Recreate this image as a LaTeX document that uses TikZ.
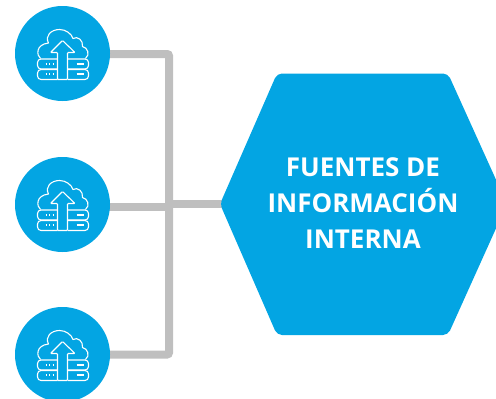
\documentclass[tikz,border=0pt]{standalone}
\usepackage{fontspec}
\setmainfont{Open Sans}
\definecolor{blu}{HTML}{03A5E3}
\definecolor{gry}{HTML}{BFBFBF}
\tikzset{
  x=1pt,y=-1pt,
  disc/.style={circle,fill=blu,minimum size=95pt,inner sep=0pt},
  conn/.style={draw=gry,line width=8pt,rounded corners=2pt},
  hexa/.style={fill=blu,rounded corners=5pt},
  ico/.style={draw=white,line width=1.1pt,line join=round,rounded corners=.8pt},
  row/.style={draw=white,line width=1.1pt,line join=round,rounded corners=3.5pt},
  cloudline/.style={draw=white,line width=1.1pt,line join=round},
  dotline/.style={draw=white,line width=1.1pt,dash pattern=on 1.2pt off 2.4pt},
  dashline/.style={draw=white,line width=1.3pt}
}
\newcommand{\servericon}[1]{%
  \begin{scope}[shift={(#1)}]
    \draw[cloudline]
      (-22,5) .. controls (-26,2) and (-27,-9) .. (-14,-10.5)
      .. controls (-18,-18) and (-11,-24) .. (-3,-24)
      .. controls (3,-24) and (9,-20) .. (10.5,-15)
      .. controls (15,-18) and (21,-13) .. (20,-7)
      .. controls (25,-6) and (28,1) .. (23,5);
    \draw[ico] (-5,26) -- (-5,-1) -- (-12,-1) -- (0,-13) -- (12.5,-1) -- (5,-1) -- (5,26) -- cycle;
    \draw[row] (-5,5.5) -- (-25,5.5) -- (-25,15.5) -- (-5,15.5);
    \draw[row] (-5,16) -- (-25,16) -- (-25,26) -- (-5,26);
    \draw[row] (5,5.5) -- (26,5.5) -- (26,15.5) -- (5,15.5);
    \draw[row] (5,16) -- (26,16) -- (26,26) -- (5,26);
    \draw[dotline] (-17,10.5) -- (-7,10.5);
    \draw[dotline] (-17,20.5) -- (-7,20.5);
    \draw[dashline] (14,10.5) -- (21,10.5);
    \draw[dashline] (14,20.5) -- (21,20.5);
  \end{scope}}
\begin{document}
\begin{tikzpicture}
\useasboundingbox (0,0) rectangle (496,399);
\coordinate (corner1) at (169,54);
\coordinate (corner3) at (169,354.5);
\coordinate (junction) at (169,207);
\coordinate (junctionb) at (169,204);
\coordinate (tip) at (222,204);
\draw[conn] (62.5,54) -- (corner1) -- (corner3) -- (62.5,354.5);
\draw[conn] (62.5,207) -- (junction);
\draw[conn] (junctionb) -- (tip);
\node[disc] (c1) at (62.5,53.5) {};
\node[disc] (c2) at (62.5,204.5) {};
\node[disc] (c3) at (62.5,354.5) {};
\servericon{c1}
\servericon{c2}
\servericon{c3}
\fill[hexa] (220,204) -- (277,73.5) -- (448,73.5) -- (507,204) -- (448,335) -- (277,335) -- cycle;
\node[text=white,font=\bfseries\fontsize{26}{36}\selectfont,align=center] (t) at (363,203) {FUENTES DE\\INFORMACIÓN\\INTERNA};
\end{tikzpicture}
\end{document}
